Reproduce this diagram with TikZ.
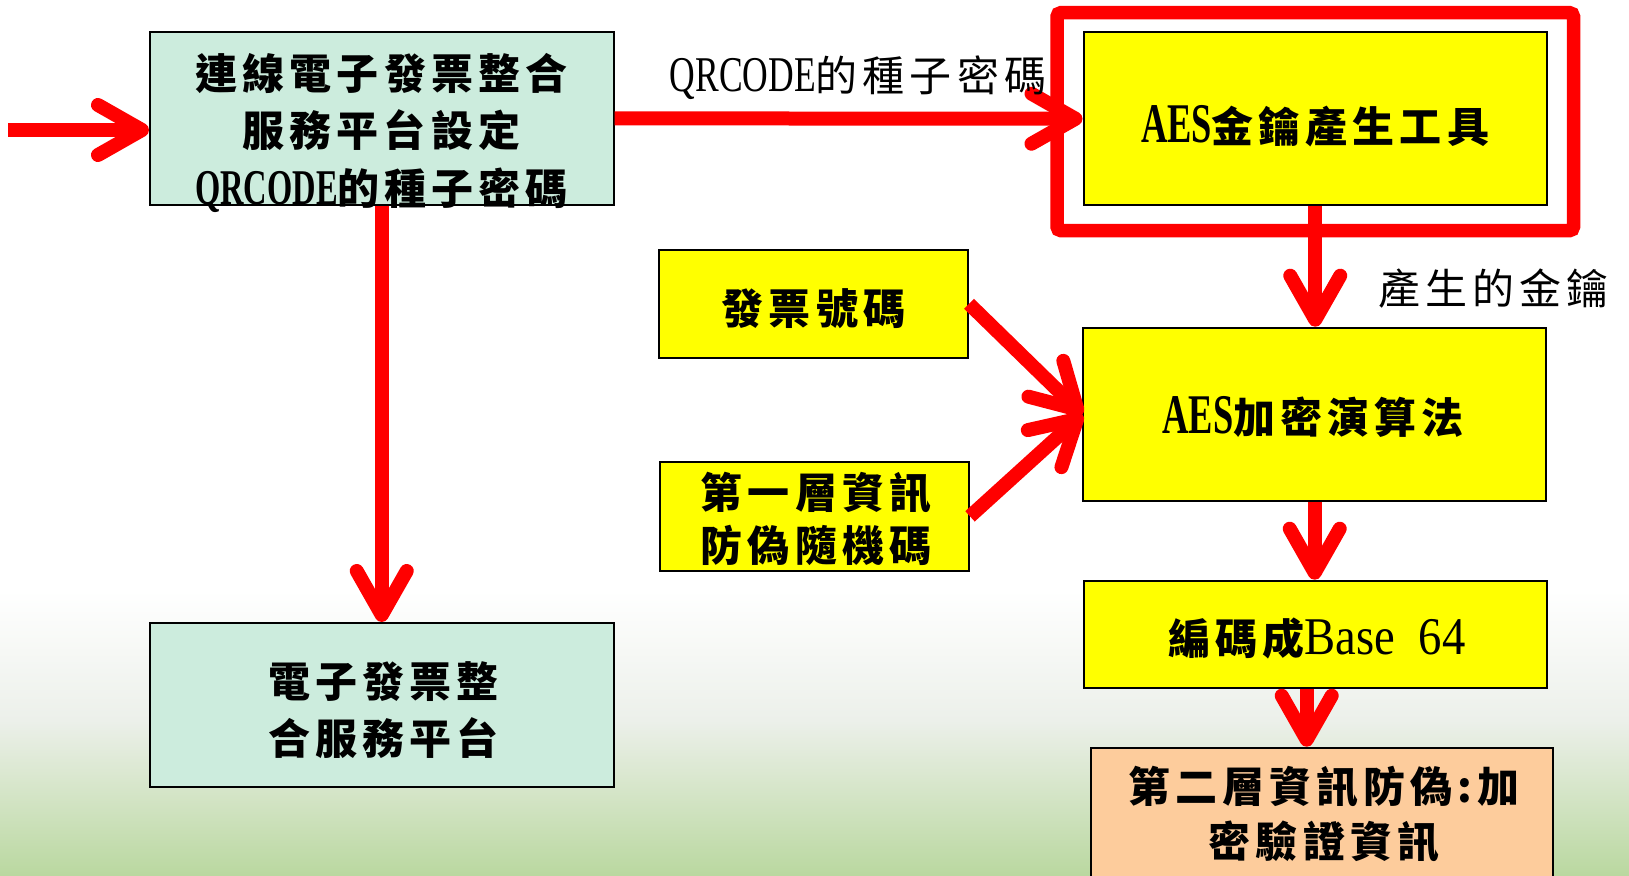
\documentclass[tikz,border=0pt]{standalone}
\usepackage{fontspec}
\usepackage{graphicx}
\setmainfont{Noto Sans CJK TC}[LetterSpace=12]
\newfontfamily\latf{Liberation Serif}
\usetikzlibrary{arrows.meta,calc,fit}
\definecolor{boxgreen}{RGB}{204,236,221}
\definecolor{boxyellow}{RGB}{255,255,0}
\definecolor{boxpeach}{RGB}{253,204,156}
\definecolor{arrred}{RGB}{255,0,0}
\definecolor{grass}{RGB}{186,216,160}
\definecolor{mist}{RGB}{236,240,234}
\newcommand\lat[3]{\scalebox{#1}[1]{\fontsize{#2}{#2}\latf #3}}
\begin{document}
\begin{tikzpicture}[x=1pt,y=-1pt,
  box/.style={draw=black, line width=2pt, inner sep=0pt, fill=#1},
  txt/.style={inner sep=0pt, align=center, font=\fontsize{42}{#1}\selectfont\bfseries},
  txt/.default=57,
  lbl/.style={inner sep=0pt, font=\fontsize{42}{57}\selectfont},
  arr/.style={draw=arrred, line width=14pt, -{Straight Barb[length=44pt,width=50pt,round]}},
  hilite/.style={draw=arrred, line width=13.5pt, rounded corners=4pt}
]
\clip (0,0) rectangle (1629,875);
\fill[white] (0,0) rectangle (1629,875);
\shade[top color=white, bottom color=mist] (0,590) rectangle (1629,720);
\shade[top color=mist, bottom color=grass] (0,720) rectangle (1629,875);

% boxes
\node[box=boxgreen, minimum width=463.5pt, minimum height=173.3pt] (box1) at (381.75,118.35) {};
\node[box=boxgreen, minimum width=463.5pt, minimum height=163.7pt] (plat) at (381.75,704.85) {};
\node[box=boxyellow, minimum width=463.5pt, minimum height=172.5pt] (key) at (1315.25,118.75) {};
\node[box=boxyellow, minimum width=309pt, minimum height=107.7pt] (inv) at (813.5,303.85) {};
\node[box=boxyellow, minimum width=309pt, minimum height=108.7pt] (rnd) at (814.5,516.35) {};
\node[box=boxyellow, minimum width=462.6pt, minimum height=173.3pt] (alg) at (1314.7,414.35) {};
\node[box=boxyellow, minimum width=463.4pt, minimum height=107.6pt] (b64) at (1315.7,634.5) {};
\node[box=boxpeach, minimum width=462.4pt, minimum height=170pt] (sec) at (1321.8,832.7) {};

% highlight frame
\node[hilite, fit=(key), inner xsep=25.5pt, inner ysep=21.75pt, yshift=-2.9pt] (frame) {};

% connectors
\coordinate (in) at (8,130);
\draw[arr] (in) -- (in -| box1.west);
\draw[arr] (box1.east) -- (key.west);
\draw[arr] (box1.south) -- (plat.north);
\draw[arr] (key.south) -- (key.south |- alg.north);
\draw[arr] (inv.east) -- (alg.west);
\draw[arr] (rnd.east) -- (alg.west);
\draw[arr] (alg.south) -- (alg.south |- b64.north);
\draw[arr] ([xshift=-9pt]b64.south) -- ([xshift=-9pt]b64.south |- sec.north);

% texts
\node[txt=57.5] (t1) at (381.5,132.7) {連線電子發票整合\\服務平台設定\\\lat{0.65}{50}{QRCODE}的種子密碼};
\node[txt=57] (tplat) at (383.5,710) {電子發票整\\合服務平台};
\node[txt] (tkey) at (1315,126.7) {\lat{0.65}{56}{AES}金鑰產生工具};
\node[txt] (tinv) at (813.5,309) {發票號碼};
\node[txt=52.5] (trnd) at (816,518.8) {第一層資訊\\防偽隨機碼};
\node[txt] (talg) at (1313,416.7) {\lat{0.65}{56}{AES}加密演算法};
\node[txt] (tb64) at (1317,638) {編碼成\lat{0.88}{53}{\mdseries Base\ \ 64}};
\node[txt=55] (tsec) at (1324,814) {第二層資訊防偽:加\\密驗證資訊};
\node[lbl] (lq) at (858,78) {\lat{0.71}{50}{QRCODE}的種子密碼};
\node[lbl, anchor=west] (lk) at (1378,289) {產生的金鑰};
\end{tikzpicture}
\end{document}
